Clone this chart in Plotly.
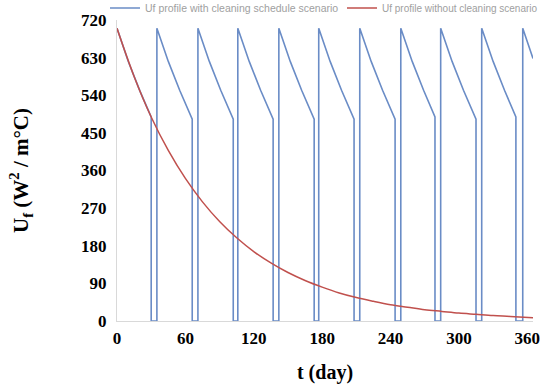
import plotly.graph_objects as go

# Red curve: Uf without cleaning
red_t = [0, 15, 30, 45, 60, 75, 90, 105, 120, 135, 150, 165, 180, 195, 210,
         225, 240, 255, 270, 285, 300, 315, 330, 345, 365]
red_u = [700, 585, 488, 408, 341, 285, 238, 199, 166, 139, 116, 97, 81, 67, 56,
         47, 39, 33, 27, 23, 19, 16, 13, 11, 8]

# Blue curve: Uf with cleaning schedule
blue_t = [0, 10, 20, 30, 30,
          35, 35, 45, 55, 66, 66,
          71, 71, 81, 91, 102, 102,
          106, 106, 116, 126, 137, 137,
          142, 142, 152, 162, 173, 173,
          177, 177, 187, 197, 208, 208,
          213, 213, 223, 233, 244, 244,
          249, 249, 259, 269, 279, 279,
          284, 284, 294, 304, 315, 315,
          320, 320, 330, 340, 350, 350,
          356, 356, 365]
blue_u = [700, 620, 551, 488, 0,
          0, 700, 621, 552, 483, 0,
          0, 700, 621, 552, 483, 0,
          0, 700, 621, 552, 483, 0,
          0, 700, 621, 552, 483, 0,
          0, 700, 621, 552, 483, 0,
          0, 700, 621, 552, 483, 0,
          0, 700, 621, 552, 488, 0,
          0, 700, 621, 552, 483, 0,
          0, 700, 621, 552, 488, 0,
          0, 700, 628]

x_ticks = [0, 60, 120, 180, 240, 300, 360]
y_ticks = [0, 90, 180, 270, 360, 450, 540, 630, 720]

fig = go.Figure()
fig.add_trace(go.Scatter(x=blue_t, y=blue_u, mode="lines", legend="legend",
                         showlegend=True,
                         name="Uf profile with cleaning schedule scenario",
                         line=dict(color="#6a8cc6", width=1.6)))
fig.add_trace(go.Scatter(x=red_t, y=red_u, mode="lines", line_shape="spline",
                         legend="legend2", showlegend=True,
                         name="Uf profile without cleaning scenario",
                         line=dict(color="#c0504d", width=1.5)))

serif = "Liberation Serif"
fig.update_layout(
    width=545, height=385, showlegend=True,
    margin=dict(l=117, r=12, t=20, b=64, autoexpand=False),
    paper_bgcolor="white", plot_bgcolor="white",
    font=dict(family=serif, color="black"),
    legend=dict(orientation="h", xref="container", yref="container",
                x=105 / 545, y=1 - 8 / 385, xanchor="left", yanchor="middle",
                font=dict(family="Liberation Sans", size=10.5, color="#a0a0a0"),
                bgcolor="rgba(0,0,0,0)", itemwidth=30, visible=True),
    legend2=dict(orientation="h", xref="container", yref="container",
                 x=342 / 545, y=1 - 8 / 385, xanchor="left", yanchor="middle",
                 font=dict(family="Liberation Sans", size=10, color="#a0a0a0"),
                 bgcolor="rgba(0,0,0,0)", itemwidth=30, visible=True),
    xaxis=dict(range=[0, 365], tickvals=x_ticks, ticktext=[str(v) for v in x_ticks],
               showgrid=False, zeroline=False, showline=True, linecolor="#d9d9d9",
               linewidth=1, ticks="", ticklabelstandoff=2,
               tickfont=dict(family=serif, size=17, color="black", weight="bold"),
               title=dict(text="<b>t (day)</b>", font=dict(family=serif, size=20),
                          standoff=17)),
    yaxis=dict(range=[0, 720], tickvals=y_ticks, ticktext=[str(v) for v in y_ticks],
               showgrid=False, zeroline=False, showline=True, linecolor="#d9d9d9",
               linewidth=1, ticks="", ticklabelstandoff=6,
               tickfont=dict(family=serif, size=17, color="black", weight="bold"),
               title=dict(text="<b>U<sub>f</sub> (W<sup>2</sup> / m°C)</b>",
                          font=dict(family=serif, size=21), standoff=46)),
)

fig.write_html("out.html")
